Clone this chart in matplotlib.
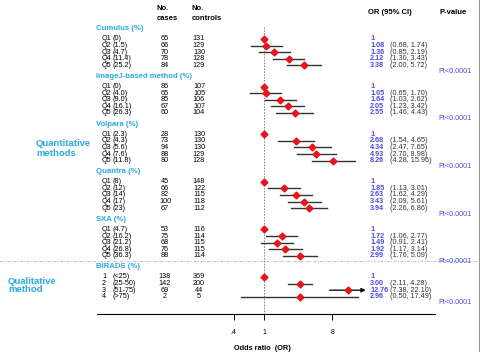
import numpy as np
import matplotlib
matplotlib.use('Agg')
import matplotlib.pyplot as plt

plt.rcParams['font.family'] = ['Liberation Sans', 'DejaVu Sans']

# data
group_names = ['Cumulus (%)', 'ImageJ-based method (%)', 'Volpara (%)',
               'Quantra (%)', 'SXA (%)', 'BIRADS (%)']

cumulus_lab = ['Q1', 'Q2', 'Q3', 'Q4', 'Q5']
cumulus_cut = ['(0)', '(1.5)', '(4.7)', '(11.4)', '(25.2)']
cumulus_cases = [65, 66, 70, 78, 84]
cumulus_ctrl = [131, 129, 130, 128, 129]
cumulus_or = [1, 1.08, 1.36, 2.12, 3.38]
cumulus_lo = [None, 0.68, 0.85, 1.30, 2.00]
cumulus_hi = [None, 1.74, 2.19, 3.43, 5.72]

imagej_lab = ['Q1', 'Q2', 'Q3', 'Q4', 'Q5']
imagej_cut = ['(0)', '(4.0)', '(9.0)', '(16.1)', '(26.3)']
imagej_cases = [86, 65, 85, 67, 60]
imagej_ctrl = [107, 105, 106, 107, 104]
imagej_or = [1, 1.05, 1.64, 2.05, 2.55]
imagej_lo = [None, 0.65, 1.03, 1.23, 1.46]
imagej_hi = [None, 1.70, 2.62, 3.42, 4.43]

volpara_lab = ['Q1', 'Q2', 'Q3', 'Q4', 'Q5']
volpara_cut = ['(2.3)', '(4.3)', '(5.6)', '(7.6)', '(11.8)']
volpara_cases = [28, 73, 94, 88, 80]
volpara_ctrl = [130, 130, 130, 129, 128]
volpara_or = [1, 2.68, 4.34, 4.93, 8.26]
volpara_lo = [None, 1.54, 2.47, 2.70, 4.28]
volpara_hi = [None, 4.65, 7.65, 8.98, 15.96]

quantra_lab = ['Q1', 'Q2', 'Q3', 'Q4', 'Q5']
quantra_cut = ['(8)', '(12)', '(14)', '(17)', '(23)']
quantra_cases = [45, 66, 82, 100, 67]
quantra_ctrl = [148, 122, 115, 118, 112]
quantra_or = [1, 1.85, 2.63, 3.43, 3.94]
quantra_lo = [None, 1.13, 1.62, 2.09, 2.26]
quantra_hi = [None, 3.01, 4.29, 5.61, 6.86]

sxa_lab = ['Q1', 'Q2', 'Q3', 'Q4', 'Q5']
sxa_cut = ['(4.7)', '(16.2)', '(21.2)', '(26.8)', '(36.3)']
sxa_cases = [53, 75, 68, 76, 88]
sxa_ctrl = [116, 114, 115, 115, 114]
sxa_or = [1, 1.72, 1.49, 1.92, 2.99]
sxa_lo = [None, 1.06, 0.91, 1.17, 1.76]
sxa_hi = [None, 2.77, 2.41, 3.14, 5.09]

birads_lab = ['1', '2', '3', '4']
birads_cut = ['(<25)', '(25-50)', '(51-75)', '(>75)']
birads_cases = [138, 142, 69, 2]
birads_ctrl = [369, 200, 44, 5]
birads_or = [1, 3.00, 12.76, 2.96]
birads_lo = [None, 2.11, 7.38, 0.50]
birads_hi = [None, 4.28, 22.10, 17.49]

p_trend = ['Pt<0.0001'] * 6

groups = [
    (cumulus_lab, cumulus_cut, cumulus_cases, cumulus_ctrl, cumulus_or, cumulus_lo, cumulus_hi),
    (imagej_lab, imagej_cut, imagej_cases, imagej_ctrl, imagej_or, imagej_lo, imagej_hi),
    (volpara_lab, volpara_cut, volpara_cases, volpara_ctrl, volpara_or, volpara_lo, volpara_hi),
    (quantra_lab, quantra_cut, quantra_cases, quantra_ctrl, quantra_or, quantra_lo, quantra_hi),
    (sxa_lab, sxa_cut, sxa_cases, sxa_ctrl, sxa_or, sxa_lo, sxa_hi),
    (birads_lab, birads_cut, birads_cases, birads_ctrl, birads_or, birads_lo, birads_hi),
]

cyan = '#2aa9e0'
blue = '#4b4be0'

W, H = 481, 352
fig = plt.figure(figsize=(W / 100, H / 100), dpi=100)

# background axes in pixel units for all the text
bg = fig.add_axes([0, 0, 1, 1])
bg.set_xlim(0, W)
bg.set_ylim(H, 0)
bg.axis('off')

# plot axes (log OR), y in the same pixel units
x0, x1, ytop, ybot = 97, 435, 20, 314
ax = fig.add_axes([x0 / W, (H - ybot) / H, (x1 - x0) / W, (ybot - ytop) / H])
ax.set_xscale('log')
ax.set_xlim(0.00627, 181)
ax.set_ylim(ybot, ytop)
ax.patch.set_alpha(0)
for s in ['left', 'right', 'top']:
    ax.spines[s].set_visible(False)
ax.spines['bottom'].set_linewidth(0.8)
ax.set_yticks([])
ax.set_xticks([0.4, 1, 8])
ax.set_xticklabels(['.4', '1', '8'])
ax.xaxis.set_minor_locator(matplotlib.ticker.NullLocator())
ax.tick_params(axis='x', length=4, width=0.7, labelsize=5, pad=7)

ax.plot([1, 1], [27, ybot], color='#777777', lw=0.6, ls=(0, (2, 1.5)))

# headers
bg.text(157, 9, 'No.', fontsize=5.5, fontweight='bold', va='center')
bg.text(157, 18, 'cases', fontsize=5.5, fontweight='bold', va='center')
bg.text(192, 9, 'No.', fontsize=5.5, fontweight='bold', va='center')
bg.text(192, 18, 'controls', fontsize=5.5, fontweight='bold', va='center')
bg.text(368, 12, 'OR (95% CI)', fontsize=5.5, fontweight='bold', va='center')
bg.text(440, 12, 'P-value', fontsize=5.5, fontweight='bold', va='center')

fs = 5.2
for g, (lab, cut, cases, ctrl, orv, lo, hi) in enumerate(groups):
    ty = 29 + g * 47.6
    bg.text(96, ty, group_names[g], fontsize=5.6, color=cyan, fontweight='bold', va='center')
    for k in range(len(lab)):
        y = ty + 10 + k * 6.6
        bg.text(102, y, lab[k], fontsize=fs, va='center')
        bg.text(113, y, cut[k], fontsize=fs, va='center')
        bg.text(165, y, str(cases[k]), fontsize=fs, va='center', ha='center')
        bg.text(199, y, str(ctrl[k]), fontsize=fs, va='center', ha='center')
        bg.text(370, y, ('%.2f' % orv[k]) if lo[k] is not None else '1',
                fontsize=fs, va='center', color=blue, fontweight='bold')
        if lo[k] is not None:
            bg.text(390, y, '(%.2f, %.2f)' % (lo[k], hi[k]), fontsize=fs, va='center',
                    color='#333333')
            if hi[k] > 20:
                ax.annotate('', xy=(hi[k], y), xytext=(lo[k], y),
                            arrowprops=dict(arrowstyle='-|>', color='#111111', lw=1.0,
                                            mutation_scale=6, shrinkA=0, shrinkB=0))
            else:
                ax.plot([lo[k], hi[k]], [y, y], color='#333333', lw=1.0)
        ax.plot(orv[k], y, marker='D', ms=3.5, color='#e8141b', zorder=3)
    bg.text(438, y + 6, p_trend[g], fontsize=5.2, color=blue, va='center')

# side labels
bg.text(36, 144, 'Quantitative', fontsize=6.8, color=cyan, fontweight='bold', va='center')
bg.text(36, 154, 'methods', fontsize=6.8, color=cyan, fontweight='bold', va='center')
bg.text(8, 281, 'Qualitative', fontsize=6.8, color=cyan, fontweight='bold', va='center')
bg.text(8, 290, 'method', fontsize=6.8, color=cyan, fontweight='bold', va='center')

# separator between quantitative and qualitative, right border
bg.plot([0, 478], [261, 261], color='#9aa8cc', lw=0.6, ls=(0, (3, 2, 1, 2)))
bg.plot([479, 479], [0, H], color='#999999', lw=0.8)

bg.text(262, 349, 'Odds ratio  (OR)', fontsize=5.3, fontweight='bold', ha='center', va='center')

fig.savefig('out.png', dpi=100)
